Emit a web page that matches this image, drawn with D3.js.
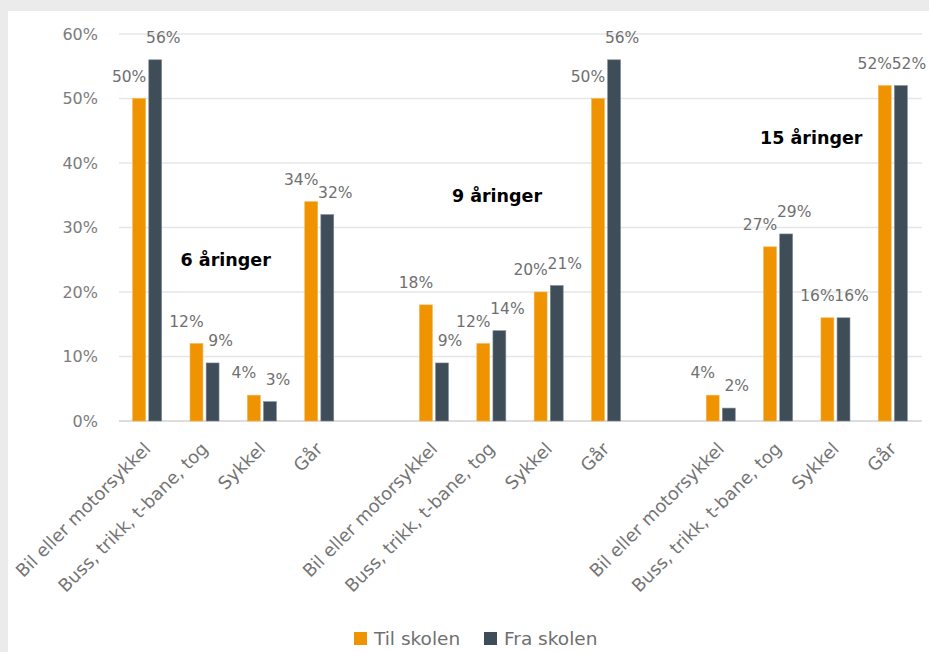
<!DOCTYPE html>
<html>
<head>
<meta charset="utf-8">
<script src="https://cdn.jsdelivr.net/npm/d3@7"></script>
<style>
  body { margin: 0; background: #ebebeb; }
  svg { display: block; }
</style>
</head>
<body>
<svg id="chart"></svg>
<script>
const categories = ["Bil eller motorsykkel", "Buss, trikk, t-bane, tog", "Sykkel", "Går"];
const groups = ["6 åringer", "9 åringer", "15 åringer"];
const seriesNames = ["Til skolen", "Fra skolen"];

const til6 = [50, 12, 4, 34];
const fra6 = [56, 9, 3, 32];
const til9 = [18, 12, 20, 50];
const fra9 = [9, 14, 21, 56];
const til15 = [4, 27, 16, 52];
const fra15 = [2, 29, 16, 52];

const yTicks = [0, 10, 20, 30, 40, 50, 60];
// group titles: anchor in slot units and in percent
const titleSlot = [1.86, 6.59, 12.07];
const titleValue = [24, 34, 43];

const colors = ["#ef9300", "#3e4d58"];

const W = 929, H = 652;
const margin = { left: 119, right: 7, top: 34, bottom: 231 };

const svg = d3.select("#chart").attr("width", W).attr("height", H);

svg.append("rect")
  .attr("x", 8).attr("y", 11)
  .attr("width", W - 8).attr("height", H - 11)
  .attr("fill", "#fff");

// build rows: one per slot, with blank slots between the groups
const tilAll = [til6, til9, til15];
const fraAll = [fra6, fra9, fra15];
const slots = [];
groups.forEach((g, gi) => {
  categories.forEach((c, ci) => {
    slots.push({ key: g + "|" + c, label: c, values: [tilAll[gi][ci], fraAll[gi][ci]] });
  });
  if (gi < groups.length - 1) slots.push({ key: "gap" + gi, label: "", values: null });
});

const x = d3.scaleBand()
  .domain(slots.map(d => d.key))
  .range([margin.left, W - margin.right])
  .paddingInner(0).paddingOuter(0);

const xInner = d3.scaleBand()
  .domain(seriesNames)
  .range([-15, 14])
  .paddingInner(0.2);

const y = d3.scaleLinear()
  .domain([0, 60])
  .range([H - margin.bottom, margin.top]);

// gridlines
svg.append("g")
  .selectAll("line")
  .data(yTicks)
  .join("line")
  .attr("x1", margin.left).attr("x2", W - margin.right)
  .attr("y1", d => y(d)).attr("y2", d => y(d))
  .attr("stroke", d => d === 0 ? "#dddddd" : "#e6e6e6")
  .attr("stroke-width", d => d === 0 ? 2 : 1.5);

// y axis labels
const yAxis = d3.axisLeft(y).tickValues(yTicks).tickFormat(d => d + "%").tickSize(0).tickPadding(0);
const yg = svg.append("g")
  .attr("transform", `translate(${margin.left - 21},0)`)
  .call(yAxis);
yg.select(".domain").remove();
yg.selectAll("text")
  .attr("fill", "#7c7c7c")
  .attr("font-family", "DejaVu Sans")
  .attr("font-size", 16);

// bars
const dataSlots = slots.filter(d => d.values);
const slotG = svg.append("g")
  .selectAll("g")
  .data(dataSlots)
  .join("g")
  .attr("transform", d => `translate(${x(d.key) + x.bandwidth() / 2},0)`);

slotG.selectAll("rect")
  .data(d => d.values.map((v, i) => ({ v, s: seriesNames[i], i })))
  .join("rect")
  .attr("x", d => xInner(d.s))
  .attr("width", xInner.bandwidth())
  .attr("y", d => y(d.v))
  .attr("height", d => y(0) - y(d.v))
  .attr("fill", d => colors[d.i])
  .attr("stroke", d => d.i === 0 ? "#f6b24a" : "#7d8a94")
  .attr("stroke-width", 0.6);

// value labels
slotG.selectAll("text")
  .data(d => d.values.map((v, i) => ({ v, s: seriesNames[i], i })))
  .join("text")
  .attr("x", d => xInner(d.s) + xInner.bandwidth() / 2 + (d.i === 0 ? -10 : 8))
  .attr("y", d => y(d.v) - 17)
  .attr("text-anchor", "middle")
  .attr("fill", "#6f6f6f")
  .attr("font-family", "DejaVu Sans")
  .attr("font-size", 15.5)
  .text(d => d.v + "%");

// x labels
svg.append("g")
  .selectAll("text")
  .data(dataSlots)
  .join("text")
  .attr("transform", d => `translate(${x(d.key) + x.bandwidth() / 2 + 4},450) rotate(-45)`)
  .attr("text-anchor", "end")
  .attr("fill", "#747474")
  .attr("font-family", "DejaVu Sans")
  .attr("font-size", 17.8)
  .text(d => d.label);

// group titles
const slotUnit = x.step();
svg.append("g")
  .selectAll("text")
  .data(groups)
  .join("text")
  .attr("x", (d, i) => margin.left + titleSlot[i] * slotUnit)
  .attr("y", (d, i) => y(titleValue[i]))
  .attr("text-anchor", "middle")
  .attr("fill", "#000")
  .attr("font-family", "DejaVu Sans")
  .attr("font-weight", "bold")
  .attr("font-size", 17.5)
  .text(d => d);

// legend
const legendX = [354, 484];
const leg = svg.append("g")
  .selectAll("g")
  .data(seriesNames)
  .join("g")
  .attr("transform", (d, i) => `translate(${legendX[i]},632)`);
leg.append("rect")
  .attr("width", 13).attr("height", 13)
  .attr("fill", (d, i) => colors[i]);
leg.append("text")
  .attr("x", 20).attr("y", 13)
  .attr("fill", "#6f6f6f")
  .attr("font-family", "DejaVu Sans")
  .attr("font-size", 18.5)
  .text(d => d);
</script>
</body>
</html>
